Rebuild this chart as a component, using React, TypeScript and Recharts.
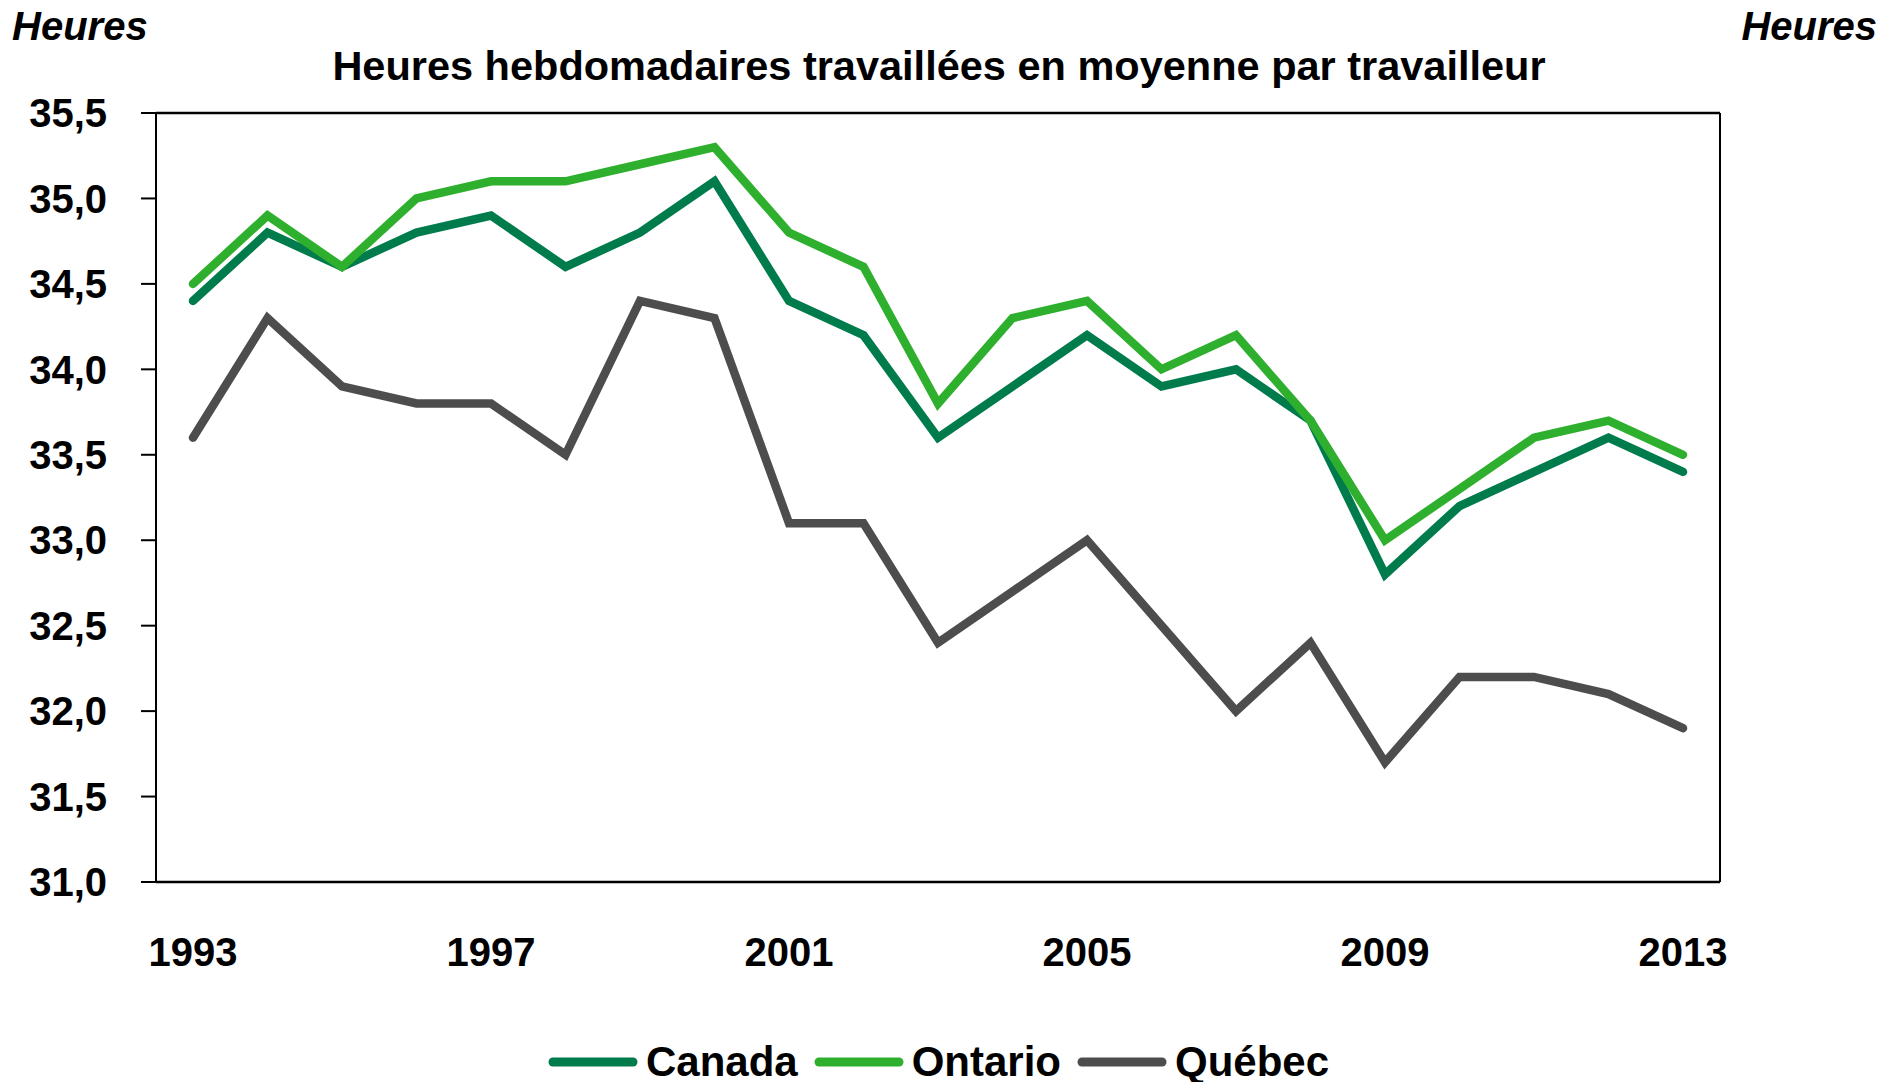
import { LineChart, Line, XAxis, YAxis, Legend, ReferenceLine } from "recharts";

const years = [
  1993, 1994, 1995, 1996, 1997, 1998, 1999, 2000, 2001, 2002, 2003,
  2004, 2005, 2006, 2007, 2008, 2009, 2010, 2011, 2012, 2013,
];
const canada = [
  34.4, 34.8, 34.6, 34.8, 34.9, 34.6, 34.8, 35.1, 34.4, 34.2, 33.6,
  33.9, 34.2, 33.9, 34.0, 33.7, 32.8, 33.2, 33.4, 33.6, 33.4,
];
const ontario = [
  34.5, 34.9, 34.6, 35.0, 35.1, 35.1, 35.2, 35.3, 34.8, 34.6, 33.8,
  34.3, 34.4, 34.0, 34.2, 33.7, 33.0, 33.3, 33.6, 33.7, 33.5,
];
const quebec = [
  33.6, 34.3, 33.9, 33.8, 33.8, 33.5, 34.4, 34.3, 33.1, 33.1, 32.4,
  32.7, 33.0, 32.5, 32.0, 32.4, 31.7, 32.2, 32.2, 32.1, 31.9,
];
const yTicks = [31, 31.5, 32, 32.5, 33, 33.5, 34, 34.5, 35, 35.5];

const COLORS = { canada: "#007B4C", ontario: "#2EB02E", quebec: "#4D4D4D" };
const FONT = '"Liberation Sans", Arial, sans-serif';

const data = years.map((y, i) => ({
  year: y,
  canada: canada[i],
  ontario: ontario[i],
  quebec: quebec[i],
}));

const series = [
  { key: "canada", name: "Canada", color: COLORS.canada },
  { key: "ontario", name: "Ontario", color: COLORS.ontario },
  { key: "quebec", name: "Québec", color: COLORS.quebec },
];

const fmt = (v: number) => v.toFixed(1).replace(".", ",");

const tickStyle = { fontFamily: FONT, fontSize: 40, fontWeight: 700, fill: "#000" };

function LegendContent() {
  return (
    <div
      style={{
        display: "flex",
        justifyContent: "center",
        alignItems: "center",
        boxSizing: "border-box",
        height: 50,
        paddingLeft: 8,
        paddingTop: 10,
      }}
    >
      {series.map((s) => (
        <div key={s.key} style={{ display: "flex", alignItems: "center", marginRight: 16 }}>
          <svg width={90} height={12} style={{ marginRight: 8 }}>
            <line x1={5} y1={6} x2={85} y2={6} stroke={s.color} strokeWidth={9} strokeLinecap="round" />
          </svg>
          <span style={{ fontFamily: FONT, fontSize: 42, fontWeight: 700, color: "#000", lineHeight: 1 }}>
            {s.name}
          </span>
        </div>
      ))}
    </div>
  );
}

export default function App() {
  return (
    <div style={{ position: "absolute", left: 0, top: 0, width: 1885, height: 1082, background: "#fff" }}>
      <div style={{ position: "absolute", left: 12, top: 4, fontFamily: FONT, fontSize: 40, fontWeight: 700, fontStyle: "italic", lineHeight: "44px" }}>
        Heures
      </div>
      <div style={{ position: "absolute", right: 8, top: 4, fontFamily: FONT, fontSize: 40, fontWeight: 700, fontStyle: "italic", lineHeight: "44px" }}>
        Heures
      </div>
      <div style={{ position: "absolute", left: 0, width: 1878, top: 44, textAlign: "center", fontFamily: FONT, fontSize: 41.5, fontWeight: 700, lineHeight: "44px" }}>
        Heures hebdomadaires travaillées en moyenne par travailleur
      </div>
      <LineChart width={1885} height={1082} data={data} margin={{ top: 113, right: 0, left: 0, bottom: 0 }}>
        <XAxis
          dataKey="year"
          interval={3}
          padding={{ left: 37, right: 37 }}
          tickLine={false}
          tickSize={0}
          tickMargin={56}
          height={150}
          axisLine={{ stroke: "#000", strokeWidth: 2.5 }}
          tick={tickStyle}
        />
        <YAxis
          yAxisId="left"
          orientation="left"
          domain={[31, 35.5]}
          ticks={yTicks}
          width={156}
          tickSize={15}
          tickMargin={34}
          tickFormatter={fmt}
          axisLine={{ stroke: "#000", strokeWidth: 2 }}
          tickLine={{ stroke: "#000", strokeWidth: 2 }}
          tick={tickStyle}
        />
        <YAxis
          yAxisId="right"
          orientation="right"
          domain={[31, 35.5]}
          ticks={yTicks}
          width={165}
          tickSize={16}
          tickMargin={20}
          tickFormatter={fmt}
          axisLine={{ stroke: "#000", strokeWidth: 2 }}
          tickLine={{ stroke: "#000", strokeWidth: 2 }}
          tick={{ ...tickStyle, textAnchor: "start" }}
        />
        <ReferenceLine yAxisId="left" y={35.5} stroke="#000" strokeWidth={2.5} />
        {series.map((s) => (
          <Line
            key={s.key}
            yAxisId="left"
            type="linear"
            dataKey={s.key}
            name={s.name}
            stroke={s.color}
            strokeWidth={8.5}
            strokeLinecap="round"
            dot={false}
            activeDot={false}
            isAnimationActive={false}
          />
        ))}
        <Legend verticalAlign="bottom" height={50} content={() => <LegendContent />} />
      </LineChart>
    </div>
  );
}
